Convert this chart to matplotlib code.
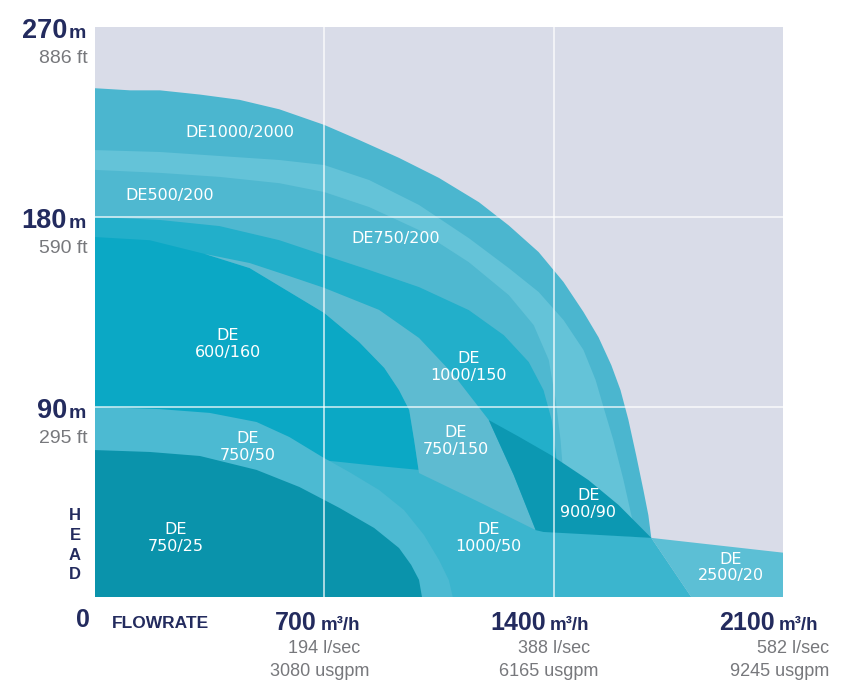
import matplotlib.pyplot as plt

# pump envelopes, flow in m3/h and head in m
q_1000_2000 = [0, 107, 198, 320, 441, 563, 700, 806, 928, 1050, 1172, 1263, 1354, 1430, 1491,
               1537, 1576, 1604, 1628, 1652, 1674, 1689, 1698, 1700]
h_1000_2000 = [241, 240, 240, 238, 235.5, 231, 223.6, 216.5, 208, 198.5, 187, 176, 163.4, 149.2, 135,
               123, 109.8, 98, 84, 67, 50.6, 38.8, 28, 0]

q_band = [0, 198, 380, 563, 700, 837, 989, 1141, 1263, 1354, 1430, 1491, 1528, 1552, 1582, 1613, 1637, 1658, 1662]
h_band = [211.7, 210.8, 208.9, 207, 204.6, 197.5, 185.7, 170, 155.8, 144.5, 131.2, 117, 102.8, 90, 74.4, 55.5, 38.8, 27, 0]

q_200 = [0, 198, 380, 563, 700, 837, 989, 1141, 1263, 1339, 1385, 1406, 1421, 1433, 1442, 1445]
h_200 = [202.3, 200.9, 199, 196, 191.8, 184.7, 173.8, 158.6, 143, 128.8, 112.3, 93.3, 74.4, 50.7, 27, 0]

q_1000_150 = [0, 198, 380, 563, 700, 837, 989, 1141, 1248, 1324, 1369, 1394, 1409, 1421, 1430, 1433]
h_1000_150 = [180, 178.6, 175.7, 169, 161.9, 154.9, 146.8, 135.9, 124, 111.3, 98, 83.8, 65, 46, 27, 0]

q_600_160 = [0, 167, 335, 472, 593, 700, 806, 883, 928, 959, 974, 989, 1004, 1013]
h_600_160 = [170.5, 169, 162.5, 155.8, 144.5, 134.5, 120.8, 108.5, 98, 88.6, 74.4, 58.7, 31.7, 0]

q_750_150 = [335, 472, 593, 700, 867, 989, 1095, 1202, 1278, 1345, 1172, 989,
             974, 959, 928, 883, 806, 700, 593, 472]
h_750_150 = [162.5, 158.2, 152, 146.4, 136, 122.7, 105.2, 83.8, 57.8, 31.7, 45, 58.7,
             74.4, 88.6, 98, 108.5, 120.8, 134.5, 144.5, 155.8]

q_900_90 = [1202, 1293, 1394, 1506, 1598, 1698, 1537, 1369, 1345, 1278]
h_900_90 = [83.8, 76, 67, 55.4, 43.6, 28, 29.4, 30.8, 31.7, 57.8]

q_2500_20 = [1698, 2100, 2100, 1820]
h_2500_20 = [28, 21, 0, 0]

q_1000_50 = [0, 320, 593, 746, 867, 989, 1111, 1232, 1345, 1537, 1698, 1820]
h_1000_50 = [74.4, 72, 66.3, 64, 62, 60.2, 54.5, 43.6, 31.7, 29.8, 28, 0]

q_750_50 = [0, 198, 350, 493, 593, 694, 776, 867, 943, 1004, 1050, 1080, 1092]
h_750_50 = [90, 89, 87.2, 82.9, 75.8, 66.3, 59.2, 50.7, 41.2, 29.4, 17.5, 8, 0]

q_750_25 = [0, 167, 320, 493, 624, 746, 852, 928, 965, 989, 998]
h_750_25 = [69.6, 68.7, 66.8, 60.2, 52.1, 42.2, 32.7, 23.2, 15.2, 8.1, 0]

# labels inside the chart
names = ["DE1000/2000", "DE500/200", "DE750/200", "DE\n600/160", "DE\n1000/150", "DE\n750/150",
         "DE\n750/50", "DE\n900/90", "DE\n750/25", "DE\n1000/50", "DE\n2500/20"]
name_q = [441, 228, 919, 405, 1141, 1102, 466, 1506, 246, 1202, 1941]
name_h = [220, 190, 170, 120, 109, 74, 71, 44, 28, 28, 14]

# axis labels
head_m = [270, 180, 90]
head_ft = ["886 ft", "590 ft", "295 ft"]
flow_m3h = [700, 1400, 2100]
flow_ls = ["194 l/sec", "388 l/sec", "582 l/sec"]
flow_gpm = ["3080 usgpm", "6165 usgpm", "9245 usgpm"]

NAVY = "#232b5e"
GREY = "#77787c"
SANS = "Liberation Sans"

fig = plt.figure(figsize=(8.49, 6.90), dpi=100)
ax = fig.add_axes([95 / 849, 1 - 597 / 690, 688 / 849, 570 / 690])
ax.set_facecolor("#d9dce8")
ax.set_xlim(0, 2100)
ax.set_ylim(0, 270)
ax.set_xticks([])
ax.set_yticks([])
for s in ax.spines.values():
    s.set_visible(False)


def envelope(q, h, color):
    ax.fill(q + [0], h + [0], color=color, lw=0)


def shape(q, h, color):
    ax.fill(q, h, color=color, lw=0)


envelope(q_1000_2000, h_1000_2000, "#4bb6cf")
envelope(q_band, h_band, "#64c3d8")
envelope(q_200, h_200, "#4fb8d0")
envelope(q_1000_150, h_1000_150, "#22afca")
envelope(q_600_160, h_600_160, "#0ba8c5")
shape(q_2500_20, h_2500_20, "#5cbfd5")
envelope(q_1000_50, h_1000_50, "#3bb5ce")
shape(q_750_150, h_750_150, "#5ebbd1")
shape(q_900_90, h_900_90, "#0c98b2")
envelope(q_750_50, h_750_50, "#4cbad2")
envelope(q_750_25, h_750_25, "#0a93ab")

for y in [90, 180]:
    ax.axhline(y, color="white", lw=1.4, alpha=0.65, zorder=20)
for x in [700, 1400]:
    ax.axvline(x, color="white", lw=1.4, alpha=0.65, zorder=20)

for t, q, h in zip(names, name_q, name_h):
    ax.text(q, h, t, color="white", fontsize=11.5, ha="center", va="center",
            linespacing=1.15, zorder=30)


def put(txt, xy, coords, dx, dy, **kw):
    ax.annotate(txt, xy=xy, xycoords=coords, xytext=(dx * 0.72, dy * 0.72),
                textcoords="offset points", annotation_clip=False, family=SANS, **kw)


for m, ft in zip(head_m, head_ft):
    put(str(m), (0, m), ("axes fraction", "data"), -28, -11, ha="right", va="baseline",
        fontsize=19.5, fontweight="bold", color=NAVY)
    put("m", (0, m), ("axes fraction", "data"), -26, -11, ha="left", va="baseline",
        fontsize=14, fontweight="bold", color=NAVY)
    put(ft, (0, m), ("axes fraction", "data"), -7, -36, ha="right", va="baseline",
        fontsize=14, color=GREY)

put("0", (0, 0), ("axes fraction", "data"), -12, -30, ha="center", va="baseline",
    fontsize=18, fontweight="bold", color=NAVY)
put("FLOWRATE", (0, 0), ("axes fraction", "data"), 17, -31, ha="left", va="baseline",
    fontsize=12.5, fontweight="bold", color=NAVY)
for i, ch in enumerate("HEAD"):
    put(ch, (0, 0), ("axes fraction", "data"), -20, 81 - 19.5 * i, ha="center", va="center",
        fontsize=12, fontweight="bold", color=NAVY)

for i, (f, ls, gpm) in enumerate(zip(flow_m3h, flow_ls, flow_gpm)):
    put(str(f), (f, 0), "data", -8, -33, ha="right", va="baseline",
        fontsize=18, fontweight="bold", color=NAVY)
    put("m³/h", (f, 0), "data", -4, -33, ha="left", va="baseline",
        fontsize=13.5, fontweight="bold", color=NAVY)
    if i == len(flow_m3h) - 1:
        put(ls, (f, 0), "data", 46, -56, ha="right", va="baseline", fontsize=13, color=GREY)
        put(gpm, (f, 0), "data", 46, -79, ha="right", va="baseline", fontsize=13, color=GREY)
    else:
        put(ls, (f, 0), "data", 0, -56, ha="center", va="baseline", fontsize=13, color=GREY)
        put(gpm, (f, 0), "data", -5, -79, ha="center", va="baseline", fontsize=13, color=GREY)

fig.savefig("out.png", dpi=100)
